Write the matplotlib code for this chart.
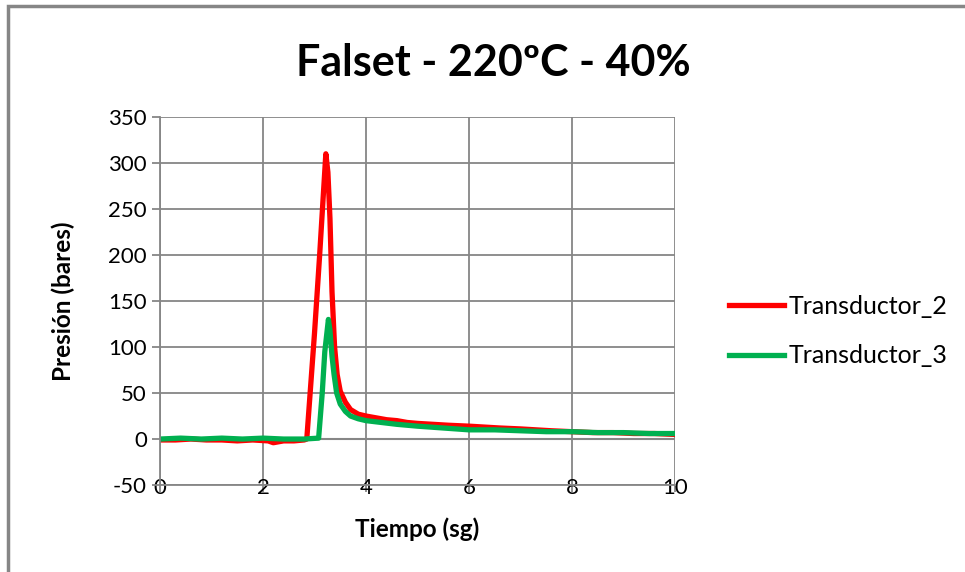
import matplotlib
matplotlib.use("Agg")
import matplotlib.pyplot as plt
from matplotlib.patches import Rectangle

plt.rcParams['font.family'] = ['Lato', 'DejaVu Sans']
plt.rcParams['axes.unicode_minus'] = False

# Transductor_2 (rojo)
t2_x = [0, 0.3, 0.6, 0.9, 1.2, 1.5, 1.8, 2.1, 2.2, 2.4, 2.6, 2.8, 2.85,
        3.0, 3.1, 3.22, 3.26, 3.3, 3.34, 3.39, 3.44, 3.5, 3.6, 3.7, 3.85,
        4.0, 4.2, 4.4, 4.6, 4.8, 5.0, 5.3, 5.6, 6.0, 6.3, 6.6, 7.0, 7.3,
        7.6, 8.0, 8.4, 8.8, 9.2, 9.6, 10.0]
t2_y = [-1, -1, 0, -1, -1, -2, -1, -2, -4, -2, -2, -1, 0,
        115, 200, 310, 290, 240, 160, 100, 70, 52, 40, 32, 27,
        25, 23, 21, 20, 18, 17, 16, 15, 14, 13, 12, 11, 10,
        9, 8, 7, 7, 6, 6, 5]

# Transductor_3 (verde)
t3_x = [0, 0.4, 0.8, 1.2, 1.6, 2.0, 2.4, 2.8, 3.08, 3.15, 3.2, 3.27,
        3.3, 3.34, 3.38, 3.43, 3.5, 3.6, 3.7, 3.85, 4.0, 4.3, 4.6, 5.0,
        5.5, 6.0, 6.5, 7.0, 7.5, 8.0, 8.5, 9.0, 9.5, 10.0]
t3_y = [0, 1, 0, 1, 0, 1, 0, 0, 1, 50, 95, 130,
        118, 90, 70, 50, 38, 30, 25, 22, 20, 18, 16, 14,
        12, 10, 10, 9, 8, 8, 7, 7, 6, 6]

x_ticks = [0, 2, 4, 6, 8, 10]
y_ticks = [-50, 0, 50, 100, 150, 200, 250, 300, 350]

fig = plt.figure(figsize=(9.65, 5.72), dpi=100)
ax = fig.add_axes([0.1658, 0.152, 0.5337, 0.6435])

ax.plot(t2_x, t2_y, color='#ff0000', lw=3.8, label='Transductor_2')
ax.plot(t3_x, t3_y, color='#00b050', lw=3.8, label='Transductor_3')

ax.set_xlim(0, 10)
ax.set_ylim(-50, 350)
ax.set_xticks(x_ticks)
ax.set_yticks(y_ticks)
ax.grid(True, color='#868686', lw=1.3)
ax.set_axisbelow(True)
ax.axhline(0, color='#868686', lw=1.5, zorder=1)
for s in ['top', 'right']:
    ax.spines[s].set_visible(False)
for s in ['left', 'bottom']:
    ax.spines[s].set_color('#868686')
    ax.spines[s].set_linewidth(1.3)
ax.tick_params(axis='y', colors='#868686', labelcolor='black', labelsize=16,
               length=6, width=1.3)
ax.tick_params(axis='x', colors='#868686', labelcolor='black', labelsize=16,
               length=5, width=1.3, pad=-10)

ax.set_xlabel('Tiempo (sg)', fontsize=17.5, fontweight='bold', labelpad=14)
ax.set_ylabel('Presión (bares)', fontsize=17.5, fontweight='bold', labelpad=24)
fig.text(0.511, 0.89, 'Falset - 220ºC - 40%', fontsize=31, fontweight='bold',
         ha='center', va='center')

ax.legend(loc='center left', bbox_to_anchor=(1.062, 0.418), frameon=False,
          fontsize=18, handlelength=2.2, handletextpad=0.15, labelspacing=1.05)

fig.patches.append(Rectangle((8 / 965, -0.1), 1.2, 1.1 - 6 / 572,
                             transform=fig.transFigure, fill=False,
                             edgecolor='#868686', lw=2.5))

fig.savefig('out.png', dpi=100)
